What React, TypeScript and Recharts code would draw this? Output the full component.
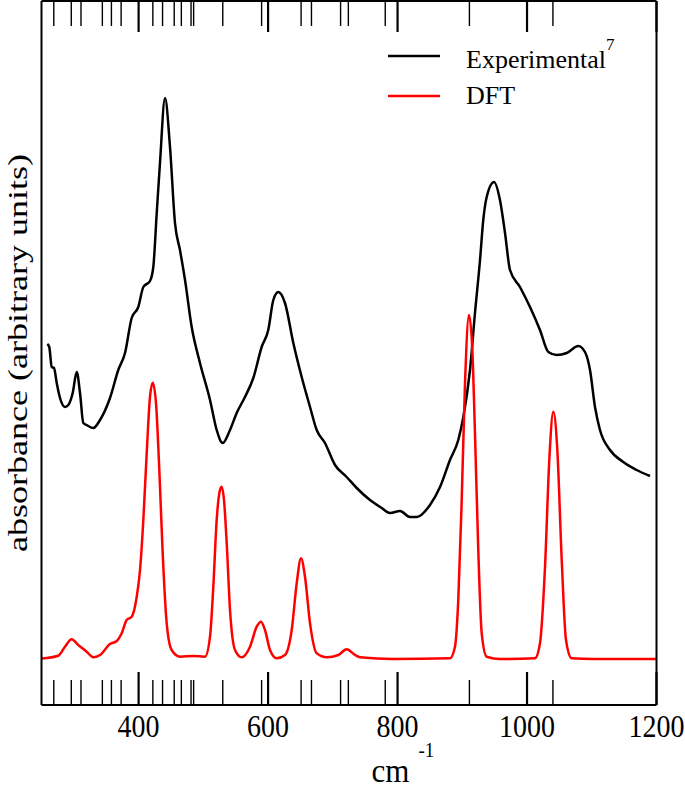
import { LineChart, Line, XAxis, YAxis, Customized } from 'recharts';

// experimental IR spectrum (black)
const expWavenumber = [
  259, 262, 265.8, 269.3, 273.5, 278.6, 286.3, 291.4, 298.2, 304.4, 309.5, 314.6, 319.8, 330, 340.4,
  355.8, 368.6, 379, 389.3, 399.5, 407.3, 417.6, 422.7, 428, 433, 440.8, 448.5, 456.2, 463.9, 471.7,
  482, 494.8, 510.3, 520.6, 529.9, 541.2, 551.5, 564.3, 577.2, 590.1, 600.3, 608.1, 615.8, 626.1, 639,
  651.9, 664.8, 675.1, 687.9, 703.4, 721.4, 736.9, 757.4, 775.5, 788.3, 803.8, 819.2, 829.6, 850.1,
  865.6, 881, 893.8, 901.6, 911.9, 919.6, 927.4, 932.4, 937.7, 949, 958.2, 966, 973.7, 989.1, 1004.6,
  1020, 1032.9, 1045.8, 1061.3, 1079.2, 1089.5, 1097.3, 1105, 1112.7, 1128.2, 1148.7, 1169.4, 1190,
];
const expAbsorbance = [
  361, 358, 338, 337, 322, 307, 298, 300, 312, 333, 312, 282, 280, 277, 285,
  307, 335, 352, 387, 398, 418, 424, 438, 492, 542, 607, 558, 482, 455, 425,
  378, 342, 305, 275, 262, 275, 292, 308, 327, 358, 375, 405, 413, 402, 362,
  328, 298, 275, 262, 240, 228, 217, 205, 197, 192, 194, 188, 188, 200,
  218, 245, 265, 288, 335, 392, 445, 485, 508, 523, 505, 472, 435, 418, 398,
  375, 353, 350, 352, 359, 353, 335, 298, 275, 255, 243, 235, 229,
];

// DFT spectrum (red)
const dftWavenumber = [
  250, 276, 286.3, 296.6, 306.8, 319.8, 330, 340.4, 355.8, 366.2, 373.9, 381.6, 389.3, 397.1, 402.2,
  407.3, 412.5, 417.6, 421.8, 426.9, 432, 437.2, 443.4, 451.1, 463.9, 484.5, 502.6, 510.3, 515.4,
  520.6, 525.7, 528.4, 531.9, 536.1, 541.2, 548.9, 559.2, 572.1, 582.4, 589.1, 595.2, 603, 613.3,
  626.1, 636.5, 644.2, 650.9, 657, 664.8, 675.1, 690.6, 708.5, 721.4, 734.3, 742, 793.4, 881, 888.7,
  893.8, 899.1, 904.2, 910.4, 915.5, 919.6, 924.7, 930, 937.7, 958.2, 1012.3, 1020, 1027.8, 1034.4,
  1040.6, 1046.8, 1053.6, 1060.2, 1069, 1102.4, 1200,
];
const dftAbsorbance = [
  46.5, 49.3, 58.3, 65.7, 60, 53.3, 47.7, 50, 61, 64, 71.7, 85, 88.3, 108.3, 135,
  185, 251.7, 308.3, 322.3, 301.7, 235, 151.7, 81.7, 55, 48.3, 49, 48.3, 68.3, 118.3,
  185, 215, 218.3, 205, 161.7, 95, 55, 47.7, 58.3, 78.3, 83.3, 75, 55, 46.7,
  50, 75, 121.7, 146.7, 128.3, 81.7, 51.7, 47.7, 50, 55.7, 50, 47.7, 46, 46.7, 58.3,
  105, 205, 321.7, 390, 355, 271.7, 155, 71.7, 48.3, 46, 46.7, 61.7, 138.3, 245,
  293.3, 255, 145, 65, 46.7, 46, 46,
];

const majorTicks = [400, 600, 800, 1000, 1200];
const minorTicks = [
  269, 296, 311, 344, 358, 373, 422, 437, 455, 466, 481, 485, 530, 590, 651, 667, 712, 724, 781, 911, 1040,
];
const allTicks = [...minorTicks, ...majorTicks].sort((a, b) => a - b);

const expData = expWavenumber.map((x, i) => ({ x, y: expAbsorbance[i] }));
const dftData = dftWavenumber.map((x, i) => ({ x, y: dftAbsorbance[i] }));

const FONT = "'Liberation Serif', 'Times New Roman', serif";

const BottomTick = (props: any) => {
  const { x, y, payload } = props;
  const v = payload.value;
  const major = majorTicks.includes(v);
  return (
    <g>
      <line x1={x} x2={x} y1={y} y2={y - (major ? 33 : 25)} stroke="#000" strokeWidth={major ? 2.2 : 1.4} />
      {major && (
        <text
          transform={`translate(${x} ${y + 32}) scale(1 1.15)`}
          textAnchor="middle"
          fontFamily={FONT}
          fontSize={28}
          fill="#000"
        >
          {v}
        </text>
      )}
    </g>
  );
};

const TopTick = (props: any) => {
  const { x, y, payload } = props;
  const major = majorTicks.includes(payload.value);
  return (
    <line x1={x} x2={x} y1={y} y2={y + (major ? 31 : 25)} stroke="#000" strokeWidth={major ? 2.2 : 1.4} />
  );
};

const XTitle = (props: any) => {
  const { x, y } = props.viewBox;
  return (
    <g fontFamily={FONT} fill="#000">
      <text transform={`translate(${x + 330} ${y + 77}) scale(1 1.12)`} fontSize={31}>
        cm
      </text>
      <text transform={`translate(${x + 377} ${y + 52}) scale(1 1.12)`} fontSize={19}>
        -1
      </text>
    </g>
  );
};

const YTitle = (props: any) => {
  const { x, y, height } = props.viewBox;
  return (
    <text
      transform={`translate(${x - 14} ${y + height / 2}) rotate(-90)`}
      textAnchor="middle"
      fontFamily={FONT}
      fontSize={28}
      textLength={398}
      lengthAdjust="spacingAndGlyphs"
      fill="#000"
    >
      absorbance (arbitrary units)
    </text>
  );
};

const LegendBox = () => (
  <g fontFamily={FONT} fill="#000">
    <line x1={388} x2={440} y1={56} y2={56} stroke="#000" strokeWidth={2.5} />
    <text x={466} y={68} fontSize={26}>
      Experimental
      <tspan fontSize={17} dy={-18}>
        7
      </tspan>
    </text>
    <line x1={388} x2={440} y1={96} y2={96} stroke="#ff0000" strokeWidth={2.5} />
    <text x={466} y={104} fontSize={26}>
      DFT
    </text>
  </g>
);

export default function App() {
  return (
    <div style={{ position: 'absolute', left: 0, top: 0, width: 685, height: 789, background: '#fff' }}>
      <LineChart width={685} height={789} margin={{ top: 0, right: 27.5, bottom: 44, left: 40.5 }}>
        <XAxis
          dataKey="x"
          type="number"
          domain={[250, 1200]}
          ticks={allTicks}
          interval={0}
          allowDataOverflow
          height={40}
          tickSize={0}
          tickMargin={0}
          tickLine={false}
          tick={<BottomTick />}
          axisLine={{ stroke: '#000', strokeWidth: 2 }}
          label={{ content: <XTitle /> }}
        />
        <XAxis
          xAxisId="top"
          orientation="top"
          dataKey="x"
          type="number"
          domain={[250, 1200]}
          ticks={allTicks}
          interval={0}
          allowDataOverflow
          height={1}
          tickSize={0}
          tickMargin={0}
          tickLine={false}
          tick={<TopTick />}
          axisLine={{ stroke: '#000', strokeWidth: 2 }}
        />
        <YAxis
          type="number"
          domain={[0, 704]}
          allowDataOverflow
          width={1}
          tick={false}
          tickLine={false}
          axisLine={{ stroke: '#000', strokeWidth: 2 }}
          label={{ content: <YTitle /> }}
        />
        <YAxis
          yAxisId="right"
          orientation="right"
          type="number"
          domain={[0, 704]}
          width={1}
          tick={false}
          tickLine={false}
          axisLine={{ stroke: '#000', strokeWidth: 2 }}
        />
        <Line
          data={expData}
          dataKey="y"
          type="monotone"
          stroke="#000"
          strokeWidth={2.5}
          dot={false}
          isAnimationActive={false}
        />
        <Line
          data={dftData}
          dataKey="y"
          type="monotone"
          stroke="#ff0000"
          strokeWidth={2.5}
          dot={false}
          isAnimationActive={false}
        />
        <Customized component={<LegendBox />} />
      </LineChart>
    </div>
  );
}
